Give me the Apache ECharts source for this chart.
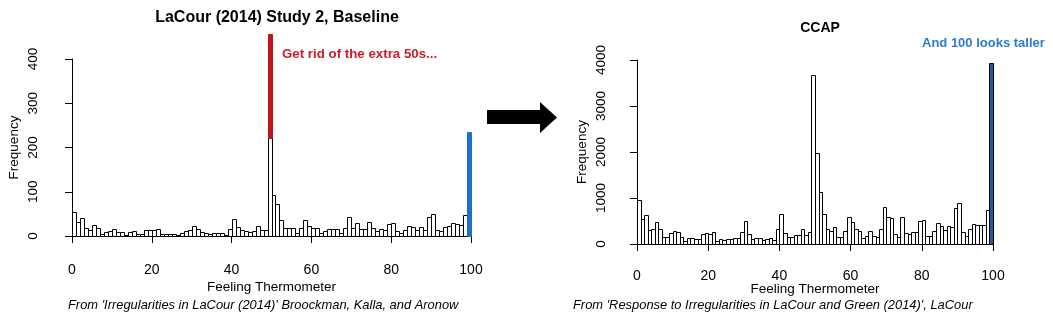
<!DOCTYPE html>
<html>
<head>
<meta charset="utf-8">
<script src="https://cdn.jsdelivr.net/npm/echarts@6/dist/echarts.min.js"></script>
<style>
html,body{margin:0;padding:0;background:#fff;}
#chart{width:1053px;height:322px;}
</style>
</head>
<body>
<div id="chart"></div>
<script>
// ---- Data ----
// Left panel: LaCour (2014) Study 2, Baseline — counts per 1-point bin (0-1, 1-2, ..., 99-100)
const lacourCounts = [
  54,32,41,18,13,25,18,5,10,12,
  16,8,10,2,10,11,5,5,14,14,
  14,16,5,5,5,5,2,7,11,14,
  23,16,9,7,5,7,7,7,2,16,
  38,20,14,11,9,11,23,14,14,221,
  93,73,36,18,18,18,7,18,36,23,
  18,18,7,11,16,16,16,7,18,43,
  18,29,16,16,32,18,11,16,14,27,
  29,11,7,14,23,20,14,20,14,43,
  50,14,11,20,23,29,27,25,47,236
];
const lacourExtra50s = 236;        // red part stacked on top of the 49-50 bin
const lacourExtraBin = 49;
const lacourBlueBin = 99;

// Right panel: CCAP — counts per 1-point bin
const ccapCounts = [
  960,545,630,315,330,480,330,150,150,240,
  280,260,150,60,130,130,110,110,215,240,
  225,260,65,110,90,110,100,130,130,260,
  500,215,110,130,120,95,110,130,95,330,
  650,240,150,150,195,195,330,195,260,3674,
  1980,1130,650,326,290,370,152,152,283,587,
  486,319,283,130,181,290,181,145,326,804,
  587,572,217,152,587,239,217,254,254,500,
  514,174,174,283,457,384,304,384,370,790,
  891,268,181,319,435,406,413,413,746,3935
];
const ccapBlueBin = 99;

const xTicks = [0, 20, 40, 60, 80, 100];
const leftYTicks = [0, 100, 200, 300, 400];
const rightYTicks = [0, 1000, 2000, 3000, 4000];

const titles = {
  left: 'LaCour (2014) Study 2, Baseline',
  right: 'CCAP',
  xName: 'Feeling Thermometer',
  yName: 'Frequency',
  leftNote: 'Get rid of the extra 50s...',
  rightNote: 'And 100 looks taller',
  leftCaption: "From 'Irregularities in LaCour (2014)' Broockman, Kalla, and Aronow",
  rightCaption: "From 'Response to Irregularities in LaCour and Green (2014)', LaCour"
};

// ---- Build series data: [binStart, binEnd, yLow, yHigh] ----
function bins(counts, skip) {
  return counts.map((v, i) => [i, i + 1, 0, v]).filter((d, i) => skip.indexOf(i) < 0);
}
const leftWhite = bins(lacourCounts, [lacourBlueBin]);
const leftRed = [[lacourExtraBin, lacourExtraBin + 1, lacourCounts[lacourExtraBin], lacourCounts[lacourExtraBin] + lacourExtra50s]];
const leftBlue = [[lacourBlueBin, lacourBlueBin + 1, 0, lacourCounts[lacourBlueBin]]];
const rightWhite = bins(ccapCounts, [ccapBlueBin]);
const rightBlue = [[ccapBlueBin, ccapBlueBin + 1, 0, ccapCounts[ccapBlueBin]]];

function makeRender(fill, stroke) {
  return function (params, api) {
    const p0 = api.coord([api.value(0), api.value(2)]);
    const p1 = api.coord([api.value(1), api.value(3)]);
    const x0 = Math.round(p0[0]) + 0.5, x1 = Math.round(p1[0]) + 0.5;
    const yb = Math.round(p0[1]) + 0.5, yt = Math.round(p1[1]) + 0.5;
    return {
      type: 'rect',
      shape: { x: x0, y: yt, width: x1 - x0, height: yb - yt },
      style: { fill: fill, stroke: stroke, lineWidth: 1 }
    };
  };
}

const FONT = '"Liberation Sans", Arial, sans-serif';

function xAxisCfg(gridIndex, offset, margin, nameGap) {
  return {
    type: 'value', gridIndex: gridIndex, min: 0, max: 100, interval: 20,
    position: 'bottom', offset: offset,
    axisLine: { show: true, lineStyle: { color: '#000', width: 1 } },
    axisTick: { show: true, length: 7, inside: false, lineStyle: { color: '#000' } },
    axisLabel: { color: '#000', fontFamily: FONT, fontSize: 14, margin: margin, showMinLabel: true, showMaxLabel: true,
                 formatter: v => String(v) },
    splitLine: { show: false },
    name: titles.xName, nameLocation: 'middle', nameGap: nameGap, nameMoveOverlap: false,
    nameTextStyle: { color: '#000', fontFamily: FONT, fontSize: 13.5 }
  };
}
function yAxisCfg(gridIndex, max, interval, offset, margin, nameGap) {
  return {
    type: 'value', gridIndex: gridIndex, min: 0, max: max, interval: interval,
    position: 'left', offset: offset,
    axisLine: { show: true, lineStyle: { color: '#000', width: 1 } },
    axisTick: { show: true, length: 7, inside: false, lineStyle: { color: '#000' } },
    axisLabel: { color: '#000', fontFamily: FONT, fontSize: 13.5, rotate: 90, margin: margin, showMinLabel: true, showMaxLabel: true,
                 formatter: v => String(v) },
    splitLine: { show: false },
    name: titles.yName, nameLocation: 'middle', nameGap: nameGap, nameRotate: 90, nameMoveOverlap: false,
    nameTextStyle: { color: '#000', fontFamily: FONT, fontSize: 13.5 }
  };
}

const option = {
  animation: false,
  backgroundColor: '#fff',
  grid: [
    { left: 72, top: 59, width: 399, height: 177, containLabel: false },
    { left: 637, top: 60, width: 356, height: 184, containLabel: false }
  ],
  xAxis: [
    xAxisCfg(0, 8, 19, 36),
    xAxisCfg(1, 7, 18, 31)
  ],
  yAxis: [
    yAxisCfg(0, 400, 100, 17, 15, 34),
    yAxisCfg(1, 4000, 1000, 14, 15, 34)
  ],
  title: [
    { text: titles.left, left: 272, top: 5, textAlign: 'center',
      textStyle: { fontFamily: FONT, fontSize: 16, fontWeight: 'bold', color: '#000' } },
    { text: titles.right, left: 815, top: 16, textAlign: 'center',
      textStyle: { fontFamily: FONT, fontSize: 14, fontWeight: 'bold', color: '#000' } }
  ],
  graphic: [
    { type: 'text', left: 282, top: 48,
      style: { text: titles.leftNote, fill: '#c8202a', font: 'bold 13.3px ' + FONT } },
    { type: 'text', left: 922, top: 37,
      style: { text: titles.rightNote, fill: '#2a7ccc', font: 'bold 13px ' + FONT } },
    { type: 'text', left: 68, top: 299,
      style: { text: titles.leftCaption, fill: '#000', font: 'italic 12.9px ' + FONT } },
    { type: 'text', left: 573, top: 299,
      style: { text: titles.rightCaption, fill: '#000', font: 'italic 12.9px ' + FONT } },
    { type: 'polygon',
      shape: { points: [[487,110],[540,110],[540,102],[557,117.5],[540,133],[540,124],[487,124]] },
      style: { fill: '#000' } }
  ],
  series: [
    { type: 'custom', xAxisIndex: 0, yAxisIndex: 0, data: leftWhite, renderItem: makeRender('#fff', '#000'), clip: false, silent: true },
    { type: 'custom', xAxisIndex: 0, yAxisIndex: 0, data: leftRed, renderItem: makeRender('#c0151d', '#c0151d'), clip: false, silent: true },
    { type: 'custom', xAxisIndex: 0, yAxisIndex: 0, data: leftBlue, renderItem: makeRender('#1f6fc8', '#1f6fc8'), clip: false, silent: true },
    { type: 'custom', xAxisIndex: 1, yAxisIndex: 1, data: rightWhite, renderItem: makeRender('#fff', '#000'), clip: false, silent: true },
    { type: 'custom', xAxisIndex: 1, yAxisIndex: 1, data: rightBlue, renderItem: makeRender('#2a56a8', '#000'), clip: false, silent: true }
  ]
};

const chart = echarts.init(document.getElementById('chart'), null, { renderer: 'canvas' });
chart.setOption(option);
</script>
</body>
</html>
